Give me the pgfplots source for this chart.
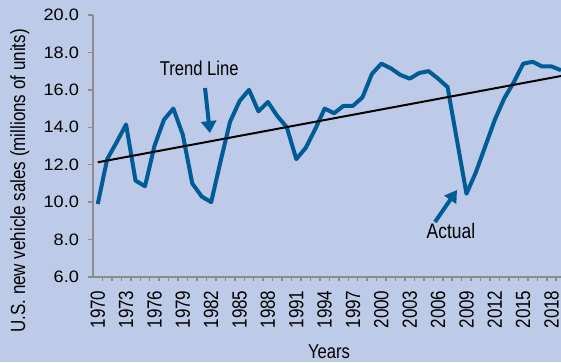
\documentclass[border=0pt]{standalone}
\usepackage{fontspec}
\setmainfont{Liberation Sans}
\newfontfamily\cond[FakeStretch=0.83]{Liberation Sans}
\newfontfamily\wide[FakeStretch=1.1]{Liberation Sans}
\usepackage{pgfplots}
\pgfplotsset{compat=1.18}
\usetikzlibrary{arrows.meta}
\definecolor{bg}{RGB}{189,202,232}
\definecolor{lineblue}{RGB}{0,92,150}
\definecolor{axgray}{RGB}{140,140,140}
\begin{document}
\begin{tikzpicture}[x=1pt,y=1pt]
\fill[bg] (0,0) rectangle (561,362);
\begin{axis}[
  at={(93pt,85pt)}, anchor=south west,
  scale only axis, width=468pt, height=262pt,
  xmin=1969.5, xmax=2019, ymin=6, ymax=20,
  axis x line*=bottom, axis y line*=left,
  axis line style={axgray, line width=2pt, -},
  tick align=outside,
  tick style={axgray, line width=1.5pt},
  major tick length=5pt, minor tick length=4pt,
  ytick={6,8,...,20},
  xtick={1970,1973,...,2018},
  minor xtick={1970.5,1971.5,...,2018.5},
  every major x tick/.append style={draw=none},
  /pgf/number format/assume math mode=true,
  yticklabel={\pgfmathprintnumber[fixed,fixed zerofill,precision=1]{\tick}},
  yticklabel style={font=\wide\fontsize{16.5}{16.5}\selectfont, text=black, xshift=-5.5pt},
  xticklabel={\pgfmathprintnumber[1000 sep={}]{\tick}},
  xticklabel style={rotate=90, anchor=east, font=\cond\fontsize{20.5}{20.5}\selectfont, text=black},
  xticklabel shift=5pt,
  clip=true,
]
\addplot[lineblue, line width=4pt, line join=round] coordinates {
(1970,9.9) (1971,12.3) (1972,13.2) (1973,14.15) (1974,11.15) (1975,10.85)
(1976,13.0) (1977,14.4) (1978,15.0) (1979,13.6) (1980,11.0) (1981,10.3)
(1982,10.0) (1983,12.2) (1984,14.3) (1985,15.4) (1986,16.0) (1987,14.85)
(1988,15.35) (1989,14.6) (1990,14.0) (1991,12.3) (1992,12.9) (1993,13.9)
(1994,15.0) (1995,14.75) (1996,15.15) (1997,15.15) (1998,15.6) (1999,16.85)
(2000,17.4) (2001,17.15) (2002,16.8) (2003,16.6) (2004,16.9) (2005,17.0)
(2006,16.6) (2007,16.15) (2008,13.3) (2009,10.45) (2010,11.6) (2011,13.0)
(2012,14.4) (2013,15.55) (2014,16.4) (2015,17.4) (2016,17.5) (2017,17.25)
(2018,17.25) (2019,17.05)
};
\addplot[black, line width=2pt] coordinates {(1970,12.13) (2019,16.74)};
\draw[lineblue, line width=4pt, -{Triangle[width=15pt,length=12pt]}]
  (axis cs:1981.35,16.1) -- (axis cs:1981.87,13.69);
\draw[lineblue, line width=4pt, -{Triangle[width=14pt,length=12pt]}]
  (axis cs:2005.67,8.94) -- (axis cs:2008.0,10.65);
\node[font=\cond\fontsize{20}{20}\selectfont] at (axis cs:1980.74,17.15) {Trend Line};
\node[font=\cond\fontsize{21}{21}\selectfont] at (axis cs:2007.36,8.47) {Actual};
\end{axis}
\node[rotate=90, anchor=base, font=\cond\fontsize{20.5}{20.5}\selectfont] at (25,181) {U.S. new vehicle sales (millions of units)};
\node[anchor=base, font=\cond\fontsize{20}{20}\selectfont] at (329,4) {Years};
\pgfresetboundingbox
\path[use as bounding box] (0,0) rectangle (561,362);
\end{tikzpicture}
\end{document}
